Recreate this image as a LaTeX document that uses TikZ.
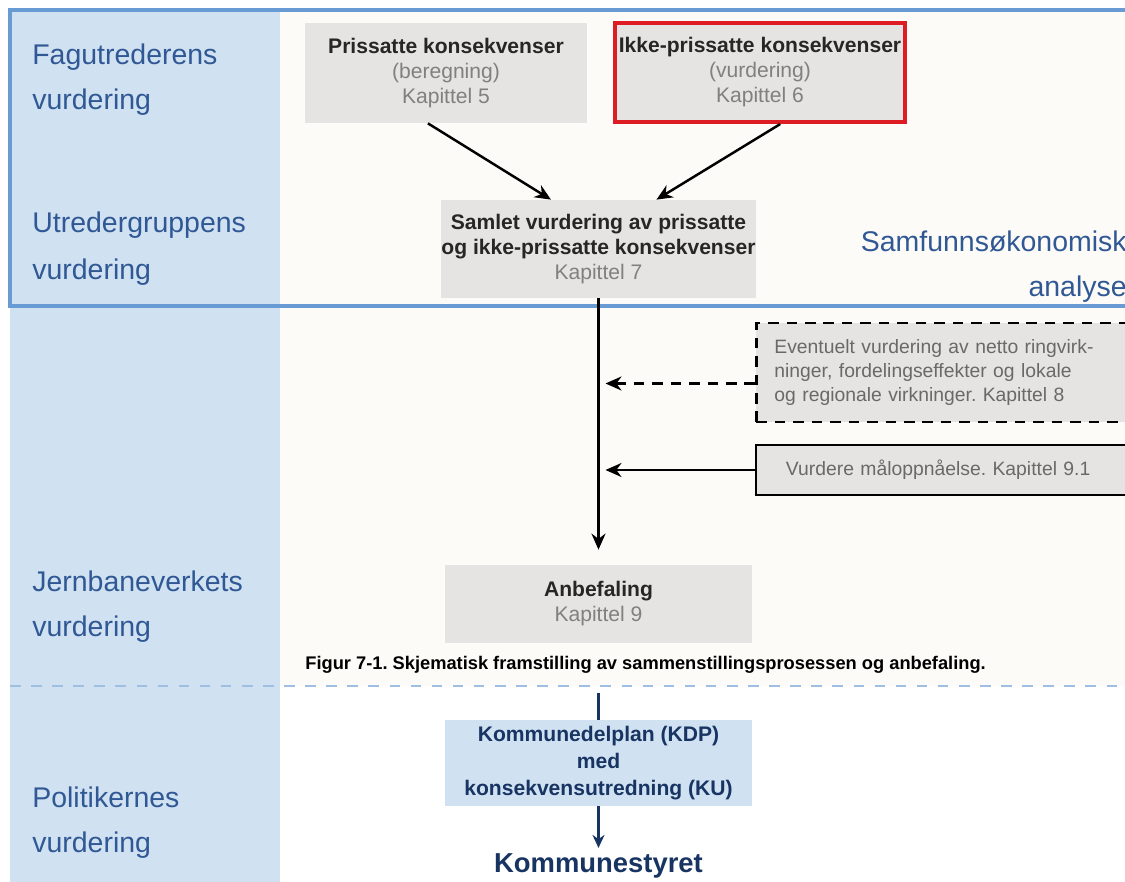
\documentclass[tikz,border=0pt]{standalone}
\usepackage{fontspec}
\setmainfont{Liberation Sans}
\usetikzlibrary{arrows.meta, calc, positioning}
\frenchspacing

\definecolor{bandblue}{RGB}{208,225,242}
\definecolor{frameblue}{RGB}{104,154,212}
\definecolor{labelblue}{RGB}{48,88,148}
\definecolor{navy}{RGB}{24,52,98}
\definecolor{boxgray}{RGB}{229,228,226}
\definecolor{subgray}{RGB}{128,128,128}
\definecolor{notegray}{RGB}{105,105,105}
\definecolor{markred}{RGB}{222,28,36}
\definecolor{paper}{RGB}{252,251,248}
\definecolor{splitblue}{RGB}{158,190,226}

\begin{document}
\begin{tikzpicture}[x=0.2mm, y=-0.2mm,
  lane/.style={anchor=base west, inner sep=0pt, text=labelblue, font=\fontsize{16.2}{19}\selectfont},
  graybox/.style={fill=boxgray, inner sep=0pt, align=center, text=black!85, font=\fontsize{12}{14.2}\selectfont},
  notebox/.style={fill=boxgray, anchor=west, align=left, text=notegray, font=\fontsize{11}{13.9}\selectfont},
  arr/.style={-{Stealth[length=3.2mm, width=2.8mm]}, line width=1.4pt}]

\useasboundingbox (0,0) rectangle (1125,882);
\fill[white] (0,0) rectangle (1125,882);
\fill[paper] (280,10) rectangle (1125,686);

% left band and frame
\fill[bandblue] (10,10) rectangle (280,882);
\draw[frameblue, line width=1.9pt] (1125,10) -- (10,10) -- (10,306) -- (1125,306);
\draw[splitblue, line width=1.1pt, dash pattern=on 6pt off 6pt] (10,686) -- (1125,686);

% lane labels
\node[lane] (fag1) at (32,65) {Fagutrederens};
\node[lane] (fag2) at (32,110) {vurdering};
\node[lane] (utr1) at (32,233) {Utredergruppens};
\node[lane] (utr2) at (32,280) {vurdering};
\node[lane] (jbv1) at (32,592) {Jernbaneverkets};
\node[lane] (jbv2) at (32,637) {vurdering};
\node[lane] (pol1) at (32,808) {Politikernes};
\node[lane] (pol2) at (32,853) {vurdering};

\node[lane, anchor=base east] (samf1) at (1127,252) {Samfunnsøkonomisk};
\node[lane, anchor=base east] (samf2) at (1127,297) {analyse};

% consequence boxes
\node[graybox, minimum width=56.4mm, minimum height=20mm] (pris) at (446,73)
  {\textbf{Prissatte konsekvenser}\\\textcolor{subgray}{(beregning)}\\\textcolor{subgray}{Kapittel 5}};
\node[graybox, draw=markred, line width=2.3pt, minimum width=58mm, minimum height=19.8mm] (ikke) at (760,72.5)
  {\textbf{Ikke-prissatte konsekvenser}\\\textcolor{subgray}{(vurdering)}\\\textcolor{subgray}{Kapittel 6}};
\node[graybox, minimum width=61.4mm, minimum height=19.6mm] (samlet) at (598.5,249)
  {\textbf{Samlet vurdering av prissatte}\\\textbf{og ikke-prissatte konsekvenser}\\\textcolor{subgray}{Kapittel 7}};
\node[graybox, minimum width=61.4mm, minimum height=15.6mm] (anbef) at (598.5,604)
  {\textbf{Anbefaling}\\\textcolor{subgray}{Kapittel 9}};

% side inputs
\node[notebox, draw, dash pattern=on 6pt off 4.5pt, line width=1.6pt, text width=70mm, inner xsep=3.6mm, minimum height=19.8mm] (ringv) at (755,372.5)
  {Eventuelt vurdering av netto ringvirk-\\ninger, fordelingseffekter og lokale\\og regionale virkninger. Kapittel 8};
\node[notebox, draw, line width=1.1pt, text width=66mm, inner xsep=6mm, minimum height=10mm] (malopp) at (755,470)
  {Vurdere måloppnåelse. Kapittel 9.1};

\node[anchor=base west, inner sep=0pt, font=\bfseries\fontsize{10.4}{12}\selectfont] (caption) at (305,670)
  {Figur 7-1. Skjematisk framstilling av sammenstillingsprosessen og anbefaling.};

% arrows
\draw[arr] ($(pris.south west)!0.436!(pris.south east)$) -- ($(samlet.north west)!0.349!(samlet.north east)$);
\draw[arr] ($(ikke.south west)!0.569!(ikke.south east)$) -- ($(samlet.north west)!0.684!(samlet.north east)$);
\draw[arr, shorten >=3mm] (samlet.south) -- (anbef.north);
\coordinate (ringvout) at ($(ringv.west)+(0,11)$);
\draw[arr, dash pattern=on 6pt off 4.5pt, shorten >=1.4mm] (ringvout) -- (ringvout -| samlet.south);
\draw[arr, shorten >=1.4mm] (malopp.west) -- (malopp.west -| samlet.south);

% political step
\coordinate (kdpin) at (598.5,693);
\node[fill=bandblue, minimum width=61.4mm, minimum height=17.2mm, inner sep=0pt, align=center, text=navy, font=\bfseries\fontsize{12}{15.3}\selectfont] (kdp) at (598.5,763)
  {Kommunedelplan (KDP)\\med\\konsekvensutredning (KU)};
\node[anchor=base, text=navy, font=\bfseries\fontsize{15.6}{18}\selectfont] (styret) at (598.5,873) {Kommunestyret};
\draw[navy, line width=1.4pt] (kdpin) -- (kdp.north);
\draw[navy, line width=1.4pt, -{Stealth[length=2.6mm, width=2.4mm]}] (kdp.south) -- (styret.north);

\end{tikzpicture}
\end{document}
